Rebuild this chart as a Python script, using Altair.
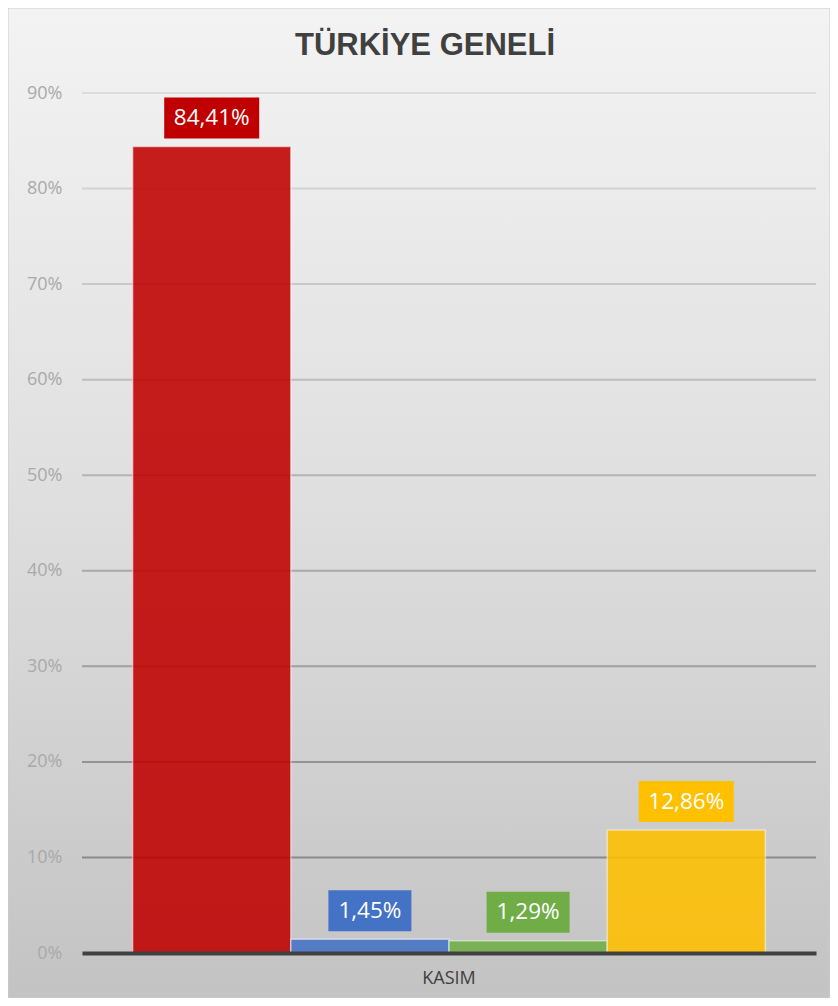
import altair as alt
import pandas as pd

# ---- data ----
category = ["KASIM"]
series = ["Seri 1", "Seri 2", "Seri 3", "Seri 4"]
values = [84.41, 1.45, 1.29, 12.86]
colors = ["#c00000", "#4472c4", "#70ad47", "#ffc000"]
y_ticks = [0, 10, 20, 30, 40, 50, 60, 70, 80, 90]
grid_ticks = [10, 20, 30, 40, 50, 60, 70, 80, 90]

df = pd.DataFrame({"cat": category * len(series), "series": series, "value": values})
grid_df = pd.DataFrame({"tick": grid_ticks})
bg_df = pd.DataFrame({"k": [0]})

W, H = 734, 860
PAD = {"left": 74, "top": 85, "right": 14, "bottom": 45}

y_scale = alt.Scale(domain=[0, 90], nice=False, zero=True)
y_axis = alt.Axis(
    values=y_ticks, labelExpr="datum.value + '%'", grid=False, domain=False, ticks=False,
    labelPadding=20, labelFont="Open Sans", labelFontSize=18, labelColor="#a9a9a9",
    title=None, zindex=1,
)
x_enc = alt.X(
    "cat:N", title=None,
    scale=alt.Scale(paddingInner=0, paddingOuter=0.08),
    axis=alt.Axis(labelAngle=0, labelFont="Open Sans", labelFontSize=18, labelColor="#404040",
                  labelPadding=16, ticks=False, domain=True, domainColor="#404040",
                  domainWidth=4, grid=False, zindex=1),
)
xoff_enc = alt.XOffset("series:N", sort=series, scale=alt.Scale(paddingInner=0, paddingOuter=0))
col_scale = alt.Scale(domain=series, range=colors)

bg = alt.Chart(bg_df).mark_rect(
    fill=alt.LinearGradient(
        gradient="linear", x1=0, x2=0, y1=0, y2=1,
        stops=[alt.GradientStop(color="#f3f3f3", offset=0),
               alt.GradientStop(color="#e0e0e0", offset=0.47),
               alt.GradientStop(color="#d6d6d6", offset=0.66),
               alt.GradientStop(color="#c3c3c3", offset=1)],
    ),
    stroke="#cccccc", strokeWidth=1,
).encode(
    x=alt.value(-PAD["left"]), x2=alt.value(W + PAD["right"]),
    y=alt.value(-PAD["top"]), y2=alt.value(H + PAD["bottom"]),
)

grid = alt.Chart(grid_df).mark_rule(strokeWidth=2).encode(
    y=alt.Y("tick:Q", scale=y_scale, axis=y_axis),
    color=alt.Color("tick:Q", scale=alt.Scale(domain=[10, 90], range=["#8a8a8a", "#dcdcdc"], interpolate="rgb"), legend=None),
)

bars = alt.Chart(df).mark_bar(opacity=0.88, stroke="white", strokeOpacity=0.55, strokeWidth=1.5).encode(
    x=x_enc, xOffset=xoff_enc,
    y=alt.Y("value:Q", scale=y_scale, axis=y_axis),
    color=alt.Color("series:N", scale=col_scale, legend=None),
)

base_lbl = alt.Chart(df).transform_calculate(
    label="replace(format(datum.value, '.2f'), '.', ',') + '%'",
    bw="length(datum.label) * 12 + 23",
)

boxes = base_lbl.mark_bar(yOffset=-8, y2Offset=-49).encode(
    x=x_enc, xOffset=xoff_enc,
    y=alt.Y("value:Q", scale=y_scale, axis=y_axis),
    y2="value:Q",
    size=alt.Size("bw:Q", scale=None, legend=None),
    color=alt.Color("series:N", scale=col_scale, legend=None),
)

texts = base_lbl.mark_text(dy=-28.5, baseline="middle", align="center", color="white",
                           font="Open Sans", fontSize=22.5).encode(
    x=x_enc, xOffset=xoff_enc,
    y=alt.Y("value:Q", scale=y_scale, axis=y_axis),
    text="label:N",
)

chart = alt.layer(bg, grid, bars, boxes, texts).properties(
    width=W, height=H,
    title=alt.TitleParams("TÜRKİYE GENELİ", font="Liberation Sans", fontSize=31, fontWeight="bold",
                          color="#404040", anchor="middle", frame="bounds", baseline="alphabetic",
                          offset=0, dy=78, dx=6, zindex=1),
    padding=PAD,
    autosize=alt.AutoSizeParams(type="none"),
).configure_view(stroke=None).configure(background="white")

chart.save("out.html", embed_options={"renderer": "svg", "actions": False})
